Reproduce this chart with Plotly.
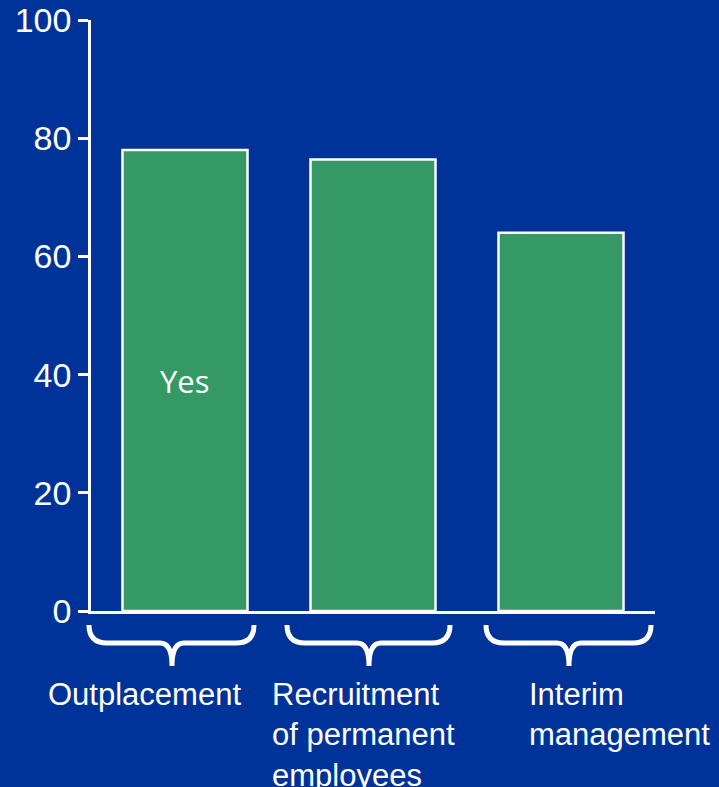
import plotly.graph_objects as go

# ---- data ----
categories = ["Outplacement", "Recruitment of permanent employees", "Interim management"]
category_labels = ["Outplacement", "Recruitment<br>of permanent<br>employees", "Interim<br>management"]
values = [78.0, 76.4, 64.0]
y_ticks = [0, 20, 40, 60, 80, 100]
inner_label = "Yes"

# ---- styles ----
BG = "#003399"
GREEN = "#359966"
WHITE = "#ffffff"
W, H = 719, 787
ML, MR, MT, MB = 91, 64, 20, 176
PW, PH = W - ML - MR, H - MT - MB

def px_x(px):
    return (px - ML) / PW

def px_y(py):
    return (H - MB - py) / PH

fig = go.Figure()
fig.add_trace(go.Bar(
    x=list(range(len(categories))),
    y=values,
    width=0.665,
    marker=dict(color=GREEN, line=dict(color=WHITE, width=2.5)),
    hoverinfo="skip",
    showlegend=False,
))

# brace geometry (pixel positions, decorative)
brace_px = [(89, 254, 172), (287, 450, 369), (486, 651, 569)]
y0, y1, y2 = 625, 643, 666
r = 18
rt = 12
shapes = []
for xl, xr, xm in brace_px:
    pts = [
        f"M {px_x(xl)},{px_y(y0)}",
        f"Q {px_x(xl)},{px_y(y1)} {px_x(xl + r)},{px_y(y1)}",
        f"L {px_x(xm - rt)},{px_y(y1)}",
        f"Q {px_x(xm)},{px_y(y1)} {px_x(xm)},{px_y(y2)}",
        f"Q {px_x(xm)},{px_y(y1)} {px_x(xm + rt)},{px_y(y1)}",
        f"L {px_x(xr - r)},{px_y(y1)}",
        f"Q {px_x(xr)},{px_y(y1)} {px_x(xr)},{px_y(y0)}",
    ]
    shapes.append(dict(type="path", xref="paper", yref="paper", path=" ".join(pts),
                       line=dict(color=WHITE, width=5), layer="above"))

label_left_px = [46, 270, 527]
annotations = []
for lab, lx in zip(category_labels, label_left_px):
    annotations.append(dict(
        text=lab, xref="paper", yref="paper", x=px_x(lx), y=px_y(675),
        xanchor="left", yanchor="top", align="left", showarrow=False,
        font=dict(family="Liberation Sans, Arial", size=31, color=WHITE),
    ))
annotations.append(dict(
    text=inner_label, xref="x", yref="y", x=0, y=39, showarrow=False,
    font=dict(family="Open Sans, DejaVu Sans", size=31, color=WHITE),
))

fig.update_layout(
    width=W, height=H,
    margin=dict(l=ML, r=MR, t=MT, b=MB, pad=0, autoexpand=False),
    paper_bgcolor=BG, plot_bgcolor=BG,
    shapes=shapes, annotations=annotations,
    xaxis=dict(range=[-0.5, 2.5], showline=True, linecolor=WHITE, linewidth=2.5,
               showgrid=False, zeroline=False, showticklabels=False, ticks="",
               automargin=False),
    yaxis=dict(range=[0, 100], tickvals=y_ticks, showline=True, linecolor=WHITE, linewidth=2.5,
               ticks="outside", ticklen=10, tickwidth=2.5, tickcolor=WHITE,
               showgrid=False, zeroline=False, automargin=False,
               tickfont=dict(family="Liberation Sans, Arial", size=34, color=WHITE)),
    bargap=0.3,
)

fig.write_html("out.html", config={"displayModeBar": False},
               post_script="document.body.style.margin='0';document.body.style.background='%s';" % BG)
